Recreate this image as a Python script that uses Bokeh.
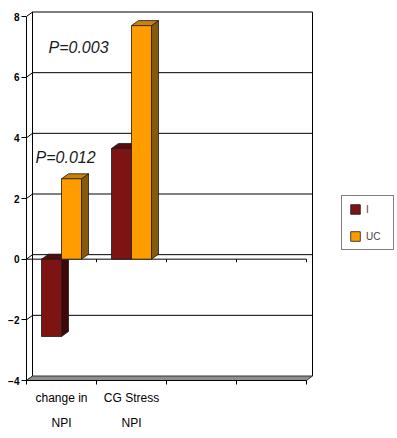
import numpy as np
from bokeh.plotting import figure
from bokeh.models import FixedTicker, LinearAxis, Range1d, Legend, LegendItem
from bokeh.embed import file_html
from bokeh.resources import INLINE
from bokeh.core.properties import value

# ---- data ----
categories = ["change in", "CG Stress", "", ""]
categories_line2 = ["NPI", "NPI", "", ""]
series_names = ["I", "UC"]
values_I = [-2.55, 3.65]
values_UC = [2.65, 7.7]
y_ticks = [-4, -2, 0, 2, 4, 6, 8]
p_texts = ["P=0.012", "P=0.003"]

# ---- style / layout constants ----
FONT = "Liberation Sans"
W, H = 397, 438
LEFT, BOTTOM = 26, 58
Y_END = 8.528
PX_X = 70.0
X_END = (W - LEFT) / PX_X
PX_Y = (H - BOTTOM) / (Y_END - y_ticks[0])
WDX, WDY = 6.0 / PX_X, 4.5 / PX_Y   # wall depth
BDX, BDY = 7.0 / PX_X, 5.0 / PX_Y   # bar depth
BAR_W = 20.0 / PX_X
p_pos_x = [0.13, 0.314]
p_pos_y = [3.36, 6.99]

n = len(categories)
ymin, ymax = y_ticks[0], y_ticks[-1]

p = figure(width=W, height=H, output_backend="svg", toolbar_location=None,
           x_range=Range1d(0, X_END), y_range=Range1d(ymin, Y_END),
           min_border_left=LEFT, min_border_right=0, min_border_top=0,
           min_border_bottom=BOTTOM)
p.outline_line_color = None
p.xgrid.visible = False
p.ygrid.visible = False
p.background_fill_color = "white"

# ---- back wall ----
grid_vals = np.array(y_ticks[1:], dtype=float)
p.segment(x0=[WDX] * len(grid_vals), y0=grid_vals + WDY,
          x1=[n + WDX] * len(grid_vals), y1=grid_vals + WDY,
          line_color="black", line_width=1)
tv = np.array(y_ticks, dtype=float)
p.segment(x0=[0] * len(tv), y0=tv, x1=[WDX] * len(tv), y1=tv + WDY,
          line_color="black", line_width=1)
p.segment(x0=[WDX, n + WDX], y0=[ymin + WDY] * 2, x1=[WDX, n + WDX],
          y1=[ymax + WDY] * 2, line_color="black", line_width=1)
# floor
p.patch(x=[0, n, n + WDX, WDX], y=[ymin, ymin, ymin + WDY, ymin + WDY],
        fill_color="#8e8e8e", line_color="#333333", line_width=1)
# front zero line with category ticks
p.segment(x0=[0], y0=[0], x1=[n], y1=[0], line_color="black", line_width=1)
bx = np.arange(1, n + 1, dtype=float)
p.segment(x0=bx, y0=[0] * n, x1=bx, y1=[-3.0 / PX_Y] * n,
          line_color="black", line_width=1)

# ---- bars ----
colors = {
    "I": ("#7d1313", "#560c0c", "#3c0808"),
    "UC": ("#ff9c00", "#c8820a", "#86590c"),
}
front_renderers = {}
for k, (name, vals) in enumerate(zip(series_names, [values_I, values_UC])):
    vals = np.array(vals, dtype=float)
    idx = np.arange(len(vals), dtype=float)
    x0 = idx + 0.5 - BAR_W + k * BAR_W
    x1 = x0 + BAR_W
    top = np.maximum(vals, 0)
    bot = np.minimum(vals, 0)
    fc, tc, sc = colors[name]
    side_xs = [[a, a, a + BDX, a + BDX] for a in x1]
    side_ys = [[b, t, t + BDY, b + BDY] for b, t in zip(bot, top)]
    p.patches(xs=side_xs, ys=side_ys, fill_color=sc, line_color="#1a1a1a",
              line_width=0.8)
    top_xs = [[a, b, b + BDX, a + BDX] for a, b in zip(x0, x1)]
    top_ys = [[t, t, t + BDY, t + BDY] for t in top]
    p.patches(xs=top_xs, ys=top_ys, fill_color=tc, line_color="#1a1a1a",
              line_width=0.8)
    r = p.quad(left=x0, right=x1, bottom=bot, top=top, fill_color=fc,
               line_color="#1a1a1a", line_width=0.8)
    front_renderers[name] = r

# ---- P value annotations ----
p.text(x=p_pos_x, y=p_pos_y, text=p_texts, text_font=value(FONT),
       text_font_size="16px", text_font_style="italic", text_color="#1a1a1a",
       text_align="left", text_baseline="alphabetic")

# ---- axes ----
ya = p.yaxis[0]
ya.ticker = FixedTicker(ticks=y_ticks, minor_ticks=[])
ya.bounds = (ymin, ymax)
ya.major_tick_out = 5
ya.major_tick_in = 0
ya.minor_tick_out = 0
ya.minor_tick_in = 0
ya.major_label_standoff = 2
ya.major_label_text_font = FONT
ya.major_label_text_font_size = "10px"
ya.major_label_text_font_style = "bold"
ya.major_label_text_color = "black"
ya.axis_line_color = "black"

centers = [i + 0.5 for i in range(n)]
bounds_ticks = [float(i) for i in range(n + 1)]
xa = p.xaxis[0]
xa.ticker = FixedTicker(ticks=centers, minor_ticks=bounds_ticks)
xa.major_label_overrides = {c: lab for c, lab in zip(centers, categories)}
xa.bounds = (0, n)
xa.major_tick_out = 0
xa.major_tick_in = 0
xa.minor_tick_out = 4
xa.minor_tick_in = 0
xa.major_label_standoff = 6
xa.major_label_text_font = FONT
xa.major_label_text_font_size = "12px"
xa.major_label_text_color = "black"
xa.axis_line_color = "black"

xa2 = LinearAxis(ticker=FixedTicker(ticks=centers, minor_ticks=[]),
                 major_label_overrides={c: lab for c, lab in zip(centers, categories_line2)})
xa2.axis_line_color = None
xa2.major_tick_line_color = None
xa2.minor_tick_line_color = None
xa2.major_tick_out = 0
xa2.major_tick_in = 0
xa2.major_label_standoff = 8
xa2.major_label_text_font = FONT
xa2.major_label_text_font_size = "12px"
xa2.major_label_text_color = "black"
p.add_layout(xa2, "below")

# ---- legend ----
legend = Legend(items=[LegendItem(label=nm, renderers=[front_renderers[nm]])
                       for nm in series_names],
                location=(315, 130), orientation="vertical",
                glyph_width=12, glyph_height=12, label_height=12,
                spacing=15, padding=7, margin=0, label_standoff=5,
                label_text_font=FONT, label_text_font_size="10px",
                border_line_color="black", border_line_width=1,
                background_fill_color="white", background_fill_alpha=1)
p.add_layout(legend)

open("out.html", "w").write(file_html(p, INLINE))
